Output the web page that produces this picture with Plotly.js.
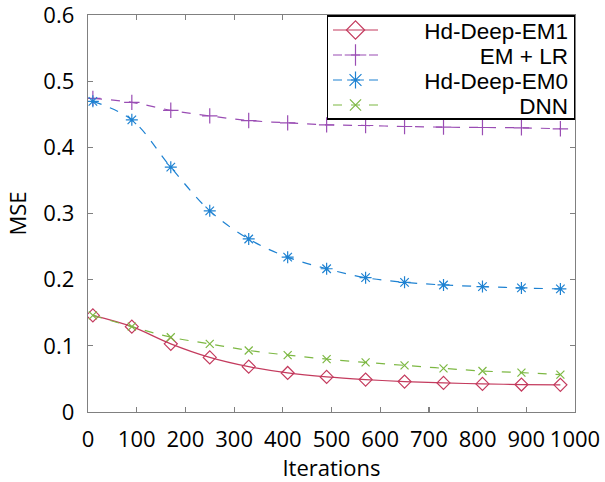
<!DOCTYPE html>
<html>
<head>
<meta charset="utf-8">
<script src="https://cdn.plot.ly/plotly-3.0.1.min.js"></script>
<style>html,body{margin:0;padding:0;background:#fff;}#chart{width:605px;height:482px;}</style>
</head>
<body>
<div id="chart"></div>
<script>
const iterations = [10, 90, 170, 250, 330, 410, 490, 570, 650, 730, 810, 890, 970];
const hdDeepEM1 = [0.146, 0.129, 0.103, 0.0825, 0.0685, 0.059, 0.053, 0.049, 0.046, 0.044, 0.0425, 0.0415, 0.041];
const emLR = [0.474, 0.468, 0.456, 0.4475, 0.4405, 0.437, 0.434, 0.433, 0.4315, 0.4305, 0.430, 0.4295, 0.428];
const hdDeepEM0 = [0.4695, 0.4415, 0.370, 0.304, 0.2615, 0.234, 0.2165, 0.203, 0.196, 0.192, 0.1895, 0.1875, 0.186];
const dnn = [0.146, 0.129, 0.113, 0.103, 0.093, 0.086, 0.080, 0.075, 0.0705, 0.066, 0.062, 0.0595, 0.0565];
const seriesNames = ["Hd-Deep-EM1", "EM + LR", "Hd-Deep-EM0", "DNN"];
const xTicks = [0, 100, 200, 300, 400, 500, 600, 700, 800, 900, 1000];
const yTicks = [0, 0.1, 0.2, 0.3, 0.4, 0.5, 0.6];
const yTickText = ["0", "0.1", "0.2", "0.3", "0.4", "0.5", "0.6"];

const FONT = "'Open Sans', 'Noto Sans', sans-serif";
const LEGFONT = "'Liberation Sans', Arial, sans-serif";
function tr(y, name, color, dash, symbol, size) {
  return {
    x: iterations, y: y, name: name, type: 'scatter', mode: 'lines+markers',
    line: {color: color, width: 1.2, dash: dash, shape: 'spline', smoothing: 1},
    marker: {symbol: symbol, size: size, color: color, line: {color: color, width: 1.2}}
  };
}
const data = [
  tr(hdDeepEM1, seriesNames[0], '#C43B5E', 'solid', 'diamond-open', 10),
  tr(emLR, seriesNames[1], '#9A4DB4', 'dash', 'cross-thin-open', 11),
  tr(hdDeepEM0, seriesNames[2], '#1E82D2', 'dash', 'asterisk-open', 10),
  tr(dnn, seriesNames[3], '#7DB843', 'dash', 'x-thin-open', 8)
];
const axisCommon = {
  showgrid: false, zeroline: false, showline: true, linecolor: '#808080', linewidth: 1.3,
  mirror: 'ticks', ticks: 'inside', ticklen: 5, tickcolor: '#808080', tickwidth: 1.2,
  tickfont: {family: FONT, size: 22, color: '#000'}, ticklabeloverflow: 'allow'
};
const layout = {
  width: 605, height: 482,
  margin: {l: 88, r: 30, t: 15, b: 70},
  paper_bgcolor: '#fff', plot_bgcolor: '#fff',
  font: {family: FONT, color: '#000'},
  showlegend: true,
  legend: {
    x: 1, xanchor: 'right', y: 1, yanchor: 'top',
    bordercolor: '#000', borderwidth: 1.5, bgcolor: '#fff',
    font: {family: LEGFONT, size: 22.5, color: '#000'},
    itemwidth: 45, tracegroupgap: 0
  },
  xaxis: Object.assign({}, axisCommon, {
    range: [0, 1000], tickmode: 'array', tickvals: xTicks, ticktext: xTicks.map(String),
    ticklabelstandoff: 7,
    title: {text: 'Iterations', font: {family: FONT, size: 22, color: '#000'}, standoff: 4}
  }),
  yaxis: Object.assign({}, axisCommon, {
    range: [0, 0.6], tickmode: 'array', tickvals: yTicks, ticktext: yTickText,
    ticklabelstandoff: 8,
    title: {text: 'MSE', font: {family: FONT, size: 22, color: '#000'}, standoff: 10}
  })
};
Plotly.newPlot('chart', data, layout, {displayModeBar: false, staticPlot: true}).then(function(gd) {
  const leg = gd.querySelector('.legend');
  if (!leg) return;
  const bg = leg.querySelector('rect.bg');
  const W = 247, H = 103, ROW = 25, TOP = 15;
  const oldW = parseFloat(bg.getAttribute('width'));
  const tf = leg.getAttribute('transform') || '';
  const m = tf.match(/translate\(([-\d.]+)[ ,]+([-\d.]+)\)/);
  if (m) {
    const nx = parseFloat(m[1]) + oldW - W;
    leg.setAttribute('transform', 'translate(' + nx + ',' + m[2] + ')');
  }
  bg.setAttribute('width', W);
  bg.setAttribute('height', H);
  gd.querySelectorAll('clipPath').forEach(function(cp){
    if (cp.id && cp.id.indexOf('legend') >= 0) cp.querySelectorAll('rect').forEach(function(r){ r.setAttribute('width', W); r.setAttribute('height', H); });
  });
  leg.querySelectorAll('g.traces').forEach(function(g, i) {
    const t = g.getAttribute('transform') || '';
    const mm = t.match(/translate\(([-\d.]+)[ ,]+([-\d.]+)\)/);
    const gx = mm ? mm[1] : 1.5;
    g.setAttribute('transform', 'translate(' + gx + ',' + (TOP + ROW * i) + ')');
  });
  leg.querySelectorAll('.legendpoints path.scatterpts').forEach(function(p) {
    const t = p.getAttribute('transform') || '';
    p.setAttribute('transform', t + ' scale(1.4)');
    p.setAttribute('vector-effect', 'non-scaling-stroke');
  });
  leg.querySelectorAll('text.legendtext').forEach(function(t) {
    t.setAttribute('text-anchor', 'end');
    t.setAttribute('x', W - 7);
    t.querySelectorAll('tspan').forEach(function(s){ if (s.hasAttribute('x')) s.setAttribute('x', W - 7); });
  });
});
</script>
</body>
</html>
